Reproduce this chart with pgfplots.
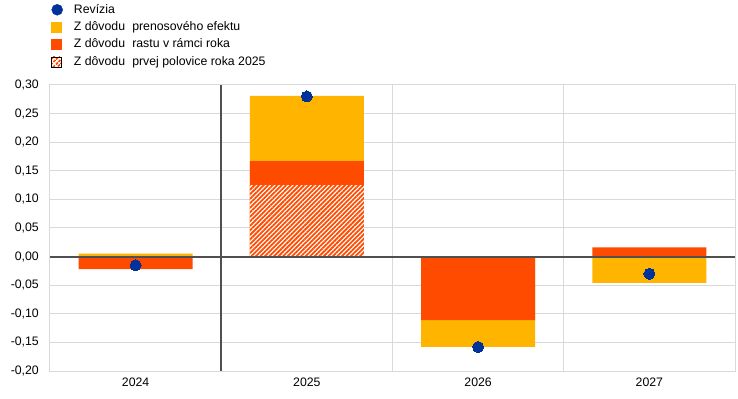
\documentclass[border=0pt]{standalone}
\usepackage{fontspec}
\setmainfont{Liberation Sans}
\usepackage{pgfplots}
\pgfplotsset{compat=1.18}
\usetikzlibrary{patterns.meta}
\definecolor{ecbyellow}{HTML}{FFB400}
\definecolor{ecbred}{HTML}{FF4B00}
\definecolor{ecbblue}{HTML}{003299}
\definecolor{gridgray}{HTML}{D9D9D9}
\definecolor{darkline}{HTML}{505050}
\begin{document}
\fontsize{12bp}{14bp}\selectfont
\begin{tikzpicture}
\begin{axis}[
  at={(0,0)}, anchor=south west,
  scale only axis, width=685bp, height=286bp,
  xmin=-0.5, xmax=3.5, ymin=-0.2, ymax=0.3,
  xtick={0,1,2,3}, xticklabels={2024,2025,2026,2027},
  minor xtick={-0.5,0.5,1.5,2.5,3.5}, xminorgrids,
  ytick={-0.2,-0.15,-0.1,-0.05,0,0.05,0.1,0.15,0.2,0.25,0.3}, ymajorgrids,
  major tick length=0pt, minor tick length=0pt,
  grid style={gridgray, line width=1bp},
  minor grid style={gridgray, line width=1bp},
  axis line style={gridgray, line width=1bp},
  /pgf/number format/assume math mode=true,
  yticklabel style={/pgf/number format/fixed, /pgf/number format/fixed zerofill,
    /pgf/number format/precision=2, /pgf/number format/use comma,
    inner sep=0pt, xshift=-11bp, font=\fontsize{12.3bp}{14bp}\selectfont},
  xticklabel style={inner sep=0pt, yshift=-7bp, font=\fontsize{12.3bp}{14bp}\selectfont},
  legend style={at={(axis description cs:0,1)}, anchor=south west, draw=none, fill=none,
    inner sep=0pt, row sep=6.2bp, column sep=11bp, yshift=17bp,
    nodes={inner sep=0pt, font=\fontsize{12.3bp}{14bp}\selectfont}},
  legend cell align=left,
]
\addlegendimage{legend image code/.code={\fill[ecbblue] (6bp,0) circle (5.5bp);}}
\addlegendentry{Revízia}
\addlegendimage{legend image code/.code={\fill[ecbyellow] (0,-5bp) rectangle (10bp,5bp);}}
\addlegendentry{Z dôvodu\hspace{0.3em} prenosového efektu}
\addlegendimage{legend image code/.code={\fill[ecbred] (0,-5bp) rectangle (10bp,5bp);}}
\addlegendentry{Z dôvodu\hspace{0.3em} rastu v rámci roka}
\addlegendimage{legend image code/.code={\fill[white] (0,-5bp) rectangle (10bp,5bp);
  \fill[pattern={Lines[angle=45,distance=3.6bp,line width=2bp]}, pattern color=ecbred] (0,-5bp) rectangle (10bp,5bp);}}
\addlegendentry{Z dôvodu\hspace{0.3em} prvej polovice roka 2025}

% cumulative bar tops
\addplot[ybar, bar width=0.666, bar shift=0pt, fill=ecbyellow, draw=none, forget plot]
  coordinates {(0,0.005) (1,0.281) (2,-0.158) (3,-0.046)};
\addplot[ybar, bar width=0.666, bar shift=0pt, fill=ecbred, draw=none, forget plot]
  coordinates {(0,-0.022) (1,0.167) (2,-0.111) (3,0.016)};
\addplot[ybar, bar width=0.666, bar shift=0pt, fill=white, draw=none, forget plot,
  postaction={pattern={Lines[angle=45,distance=3.2bp,line width=1.8bp]}, pattern color=ecbred}]
  coordinates {(1,0.125)};

\draw[darkline, line width=2bp] (axis cs:-0.5,0) -- (axis cs:3.5,0);
\draw[darkline, line width=2bp] (axis cs:0.5,-0.2) -- (axis cs:0.5,0.3);

\addplot[only marks, color=ecbblue, mark=*, mark size=5.5bp, mark options={fill=ecbblue, draw=ecbblue, line width=0pt}, forget plot]
  coordinates {(0,-0.015) (1,0.280) (2,-0.158) (3,-0.030)};
\end{axis}
\pgfresetboundingbox
\path[use as bounding box] (-50bp,-28bp) rectangle (688bp,371bp);
\end{tikzpicture}
\end{document}
